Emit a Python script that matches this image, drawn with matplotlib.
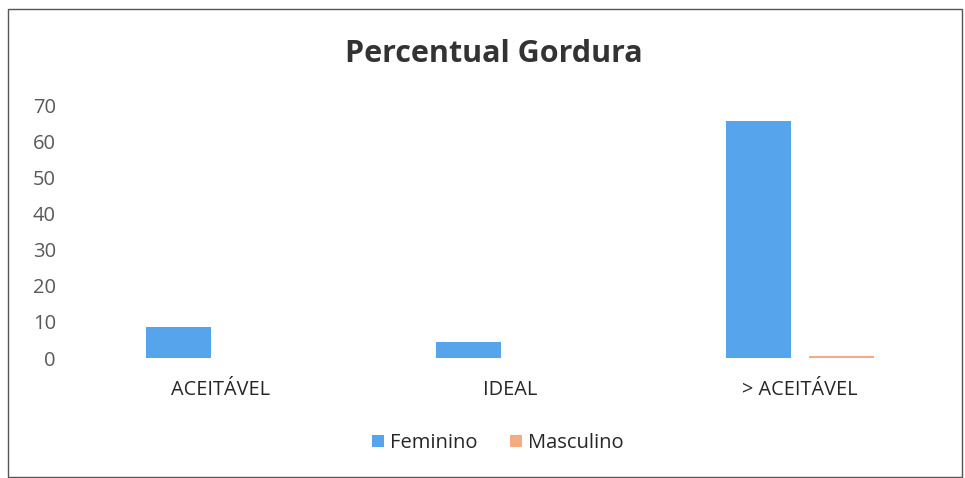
import matplotlib.pyplot as plt
import matplotlib.patches as patches
import numpy as np

plt.rcParams['font.family'] = ['Open Sans', 'DejaVu Sans']

categorias = ['ACEITÁVEL', 'IDEAL', '> ACEITÁVEL']
feminino = [8.7, 4.5, 65.6]
masculino = [0, 0, 0.5]
y_ticks = [0, 10, 20, 30, 40, 50, 60, 70]

cor_fem = '#56A5EC'
cor_masc = '#F2AB82'

fig = plt.figure(figsize=(9.65, 4.78), dpi=100)
ax = fig.add_axes([0.078, 0.251, 0.901, 0.529])

x = np.arange(len(categorias))
w = 0.224
ax.bar(x - 0.143, feminino, w, color=cor_fem, label='Feminino')
ax.bar(x + 0.143, masculino, w, color=cor_masc, label='Masculino')

ax.set_xlim(-0.5, 2.5)
ax.set_ylim(0, 70)
ax.set_yticks(y_ticks)
ax.set_xticks(x)
ax.set_xticklabels(categorias, fontsize=14.3, color='#262626')
ax.tick_params(axis='y', labelsize=14.5, labelcolor='#595959', length=0, pad=14)
ax.tick_params(axis='x', length=0, pad=16)
for s in ax.spines.values():
    s.set_visible(False)

fig.text(0.512, 0.887, 'Percentual Gordura', ha='center', va='center',
         fontsize=22, fontweight='bold', color='#333333')

leg = fig.legend(loc='center', bbox_to_anchor=(0.516, 0.073), ncol=2, frameon=False,
                 fontsize=14.5, handlelength=0.6, handleheight=0.6, handletextpad=0.3,
                 columnspacing=1.6)
for t in leg.get_texts():
    t.set_color('#262626')

# moldura do grafico
fig.patches.append(patches.Rectangle((8 / 965, 0.002), 954 / 965, 1 - 10 / 478,
                                     transform=fig.transFigure, fill=False,
                                     edgecolor='#555555', linewidth=1))

fig.savefig('out.png', dpi=100)
